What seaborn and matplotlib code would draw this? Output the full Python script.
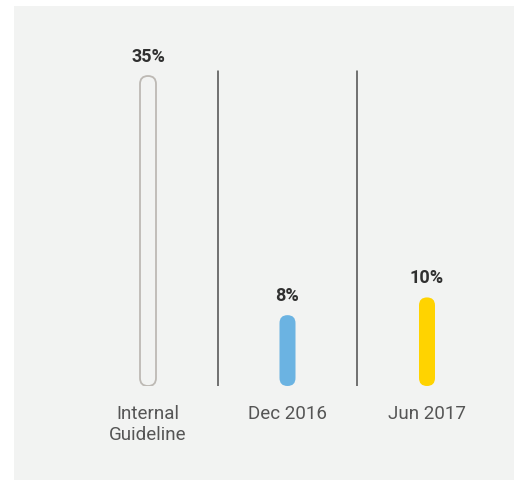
import matplotlib
matplotlib.use("Agg")
import matplotlib.pyplot as plt
import seaborn as sns
import pandas as pd
from matplotlib.patches import FancyBboxPatch, Rectangle

# Data
categories = ["Internal\nGuideline", "Dec 2016", "Jun 2017"]
shares = [35, 8, 10]
value_labels = ["35%", "8%", "10%"]

# Styling
panel_color = "#f2f3f2"
fill_colors = [panel_color, "#6bb3e2", "#ffd300"]
edge_colors = ["#bdb9b4", "none", "none"]

sns.set_theme(style="white")
plt.rcParams["font.family"] = ["Roboto", "DejaVu Sans"]

W, H = 514, 480
fig = plt.figure(figsize=(W / 100, H / 100), dpi=100)
fig.patch.set_facecolor("white")
fig.patches.append(Rectangle((14 / W, 0), 1, 1 - 6 / H, transform=fig.transFigure,
                             facecolor=panel_color, edgecolor="none", zorder=-10))

# axes geometry in pixels
px_per_cat = 139.5
ax_left = 148 - 0.5 * px_per_cat
ax_right = 427 + 0.5 * px_per_cat
ax_bottom = 386
y_max = 40
px_per_pct = 310 / 35
ax_height = y_max * px_per_pct
ax = fig.add_axes([ax_left / W, (H - ax_bottom) / H,
                   (ax_right - ax_left) / W, ax_height / H])
ax.set_facecolor("none")

df = pd.DataFrame({"period": categories, "share": shares})
bar_w = 16 / px_per_cat
sns.barplot(data=df, x="period", y="share", hue="period", palette=fill_colors,
            legend=False, width=bar_w, ax=ax, saturation=1)
ax.set_xlim(-0.5, 2.5)
ax.set_ylim(0, y_max)

# swap the plain bars for pill-shaped ones
x_per_px = 3 / (ax_right - ax_left)
y_per_px = y_max / ax_height
aspect = y_per_px / x_per_px
bars = [p for p in ax.patches]
for i, p in enumerate(bars):
    x, y = p.get_x(), p.get_y()
    w, h = p.get_width(), p.get_height()
    p.remove()
    lw = 1.3 if edge_colors[i] != "none" else 0
    pill = FancyBboxPatch((x, y), w, h,
                          boxstyle=f"round,pad=0,rounding_size={w / 2}",
                          mutation_aspect=aspect,
                          facecolor=fill_colors[i], edgecolor=edge_colors[i],
                          linewidth=lw, zorder=3)
    ax.add_patch(pill)

# value labels above bars
for i, (v, lab) in enumerate(zip(shares, value_labels)):
    ax.annotate(lab, xy=(i, v), xytext=(0, 14), textcoords="offset points",
                ha="center", va="center", fontsize=13, fontweight="bold",
                color="#303030")

# separators between categories
sep_top = (ax_bottom - 71) / ax_height
for xs in (0.5, 1.5):
    ax.axvline(xs, ymin=0, ymax=sep_top, color="#4d4d4d", linewidth=1.1, zorder=2)

for s in ax.spines.values():
    s.set_visible(False)
ax.set_yticks([])
ax.set_xlabel("")
ax.set_ylabel("")
ax.tick_params(axis="x", length=0, pad=14, labelsize=13.5, labelcolor="#555555")
for t in ax.get_xticklabels():
    t.set_fontweight("normal")
    t.set_linespacing(1.2)

fig.savefig("out.png", dpi=100)
